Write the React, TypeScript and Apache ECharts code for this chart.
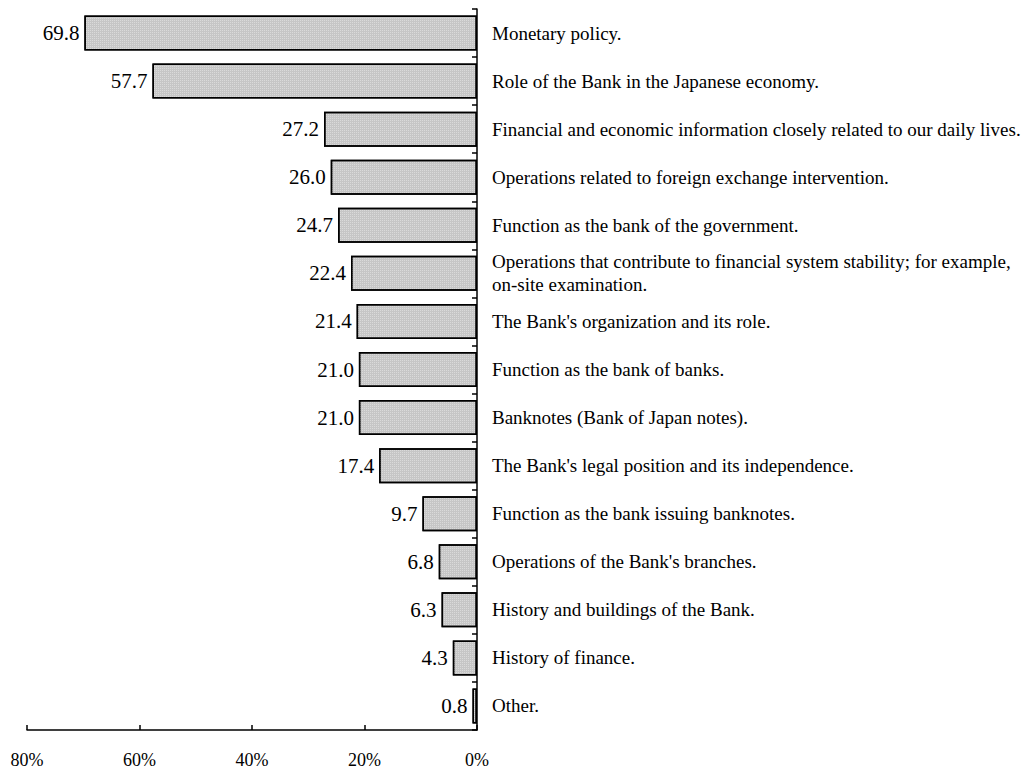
import React, { useEffect, useRef } from "react";
import * as echarts from "echarts";

const categories: string[] = [
  "Monetary policy.",
  "Role of the Bank in the Japanese economy.",
  "Financial and economic information closely related to our daily lives.",
  "Operations related to foreign exchange intervention.",
  "Function as the bank of the government.",
  "Operations that contribute to financial system stability; for example,\non-site examination.",
  "The Bank's organization and its role.",
  "Function as the bank of banks.",
  "Banknotes (Bank of Japan notes).",
  "The Bank's legal position and its independence.",
  "Function as the bank issuing banknotes.",
  "Operations of the Bank's branches.",
  "History and buildings of the Bank.",
  "History of finance.",
  "Other.",
];

const values: number[] = [69.8, 57.7, 27.2, 26.0, 24.7, 22.4, 21.4, 21.0, 21.0, 17.4, 9.7, 6.8, 6.3, 4.3, 0.8];

const xTicks: number[] = [0, 20, 40, 60, 80];

const FONT = "Times New Roman, Liberation Serif, DejaVu Serif, serif";

export default function App() {
  const ref = useRef<HTMLDivElement>(null);
  useEffect(() => {
    if (!ref.current) return;
    const chart = echarts.init(ref.current, undefined, { renderer: "svg" });
    chart.setOption({
      animation: false,
      backgroundColor: "#ffffff",
      aria: { enabled: false, decal: { show: true } },
      textStyle: { fontFamily: FONT },
      grid: { left: 27, right: 554, top: 9, bottom: 38, containLabel: false },
      xAxis: {
        type: "value",
        inverse: true,
        min: xTicks[0],
        max: xTicks[xTicks.length - 1],
        interval: 20,
        position: "bottom",
        splitLine: { show: false },
        axisLine: { show: true, lineStyle: { color: "#000", width: 1.5 } },
        axisTick: { show: true, inside: true, length: 5, lineStyle: { color: "#000", width: 1.5 } },
        axisLabel: {
          formatter: "{value}%",
          color: "#000",
          fontFamily: FONT,
          fontSize: 18,
          margin: 21,
        },
      },
      yAxis: {
        type: "category",
        data: categories,
        inverse: true,
        position: "right",
        axisLine: { show: true, lineStyle: { color: "#000", width: 1.5 } },
        axisTick: { show: true, inside: true, length: 5, lineStyle: { color: "#000", width: 1.5 } },
        axisLabel: {
          color: "#000",
          fontFamily: FONT,
          fontSize: 19,
          lineHeight: 23,
          margin: 15,
          align: "left",
        },
        splitLine: { show: false },
      },
      series: [
        {
          type: "bar",
          data: values,
          barWidth: 35,
          itemStyle: {
            color: "#c6c6c6",
            borderColor: "#000",
            borderWidth: 1.5,
            decal: {
              symbol: "rect",
              symbolSize: 1,
              color: "rgba(255,255,255,0.35)",
              dashArrayX: [1, 1],
              dashArrayY: [1, 1],
              rotation: 0,
            },
          },
          label: {
            show: true,
            position: "left",
            distance: 5,
            color: "#000",
            fontFamily: FONT,
            fontSize: 21,
            formatter: (p: any) => Number(p.value).toFixed(1),
          },
        },
      ],
    });
    return () => chart.dispose();
  }, []);
  return (
    <div
      ref={ref}
      style={{ position: "absolute", left: 0, top: 0, width: 1031, height: 769 }}
    />
  );
}
